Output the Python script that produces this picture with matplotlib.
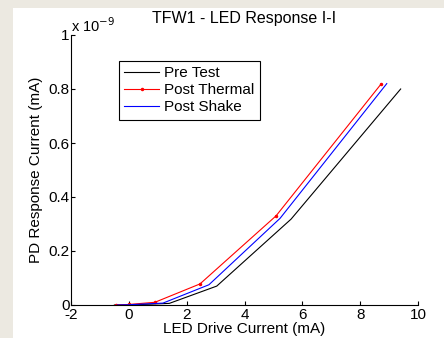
import numpy as np
import matplotlib.pyplot as plt
from matplotlib.patches import Rectangle

# data (drive current in mA, response in A)
pre_x = [-0.5, 0.0, 1.4, 3.04, 5.61, 9.4]
pre_y = [0.0, 0.0, 0.006e-9, 0.07e-9, 0.318e-9, 0.80e-9]

thermal_x = [-0.45, 0.0, 0.9, 2.46, 5.09, 8.72]
thermal_y = [0.0, 0.002e-9, 0.01e-9, 0.078e-9, 0.33e-9, 0.818e-9]

shake_x = [-0.4, 0.0, 1.18, 2.77, 5.23, 8.92]
shake_y = [0.0, 0.001e-9, 0.007e-9, 0.075e-9, 0.321e-9, 0.82e-9]

xticks = [-2, 0, 2, 4, 6, 8, 10]
yticks = [0, 0.2, 0.4, 0.6, 0.8, 1]

plt.rcParams['font.family'] = ['Liberation Sans', 'DejaVu Sans']
plt.rcParams['font.size'] = 11

fig = plt.figure(figsize=(4.44, 3.38), dpi=100)
fig.patch.set_facecolor('white')
# beige window strips on the left and top
fig.patches.append(Rectangle((0, 0), 13 / 444, 1, transform=fig.transFigure,
                             facecolor='#ece9e1', edgecolor='none', zorder=-10))
fig.patches.append(Rectangle((0, 1 - 8 / 338), 1, 8 / 338, transform=fig.transFigure,
                             facecolor='#ece9e1', edgecolor='none', zorder=-10))

ax = fig.add_axes([71 / 444, 33 / 338, 347 / 444, 270 / 338])

ax.plot(pre_x, pre_y, color='black', lw=0.8, label='Pre Test')
ax.plot(thermal_x, thermal_y, color='red', lw=0.8, marker='.', ms=3, label='Post Thermal')
ax.plot(shake_x, shake_y, color='blue', lw=0.8, label='Post Shake')

ax.set_xlim(-2, 10)
ax.set_ylim(0, 1e-9)
ax.set_xticks(xticks)
ax.set_xticklabels([str(t) for t in xticks])
ax.set_yticks([t * 1e-9 for t in yticks])
ax.set_yticklabels([str(t) for t in yticks])
ax.tick_params(direction='in', length=3, width=0.8, pad=1)
ax.tick_params(axis='x', pad=2)
ax.spines['top'].set_visible(False)
ax.spines['right'].set_visible(False)

ax.text(0.0, 1.0, r'x 10$^{-9}$', transform=ax.transAxes, ha='left', va='bottom', fontsize=10.5)
ax.set_title('TFW1 - LED Response I-I', fontsize=11.5, pad=9)
ax.set_xlabel('LED Drive Current (mA)', labelpad=0)
ax.set_ylabel('PD Response Current (mA)', labelpad=4)

leg = ax.legend(loc='upper left', bbox_to_anchor=(48 / 347, 1 - 26 / 270), fancybox=False,
                edgecolor='black', framealpha=1, borderpad=0.35, labelspacing=0.2,
                handlelength=2.3, handletextpad=0.3, borderaxespad=0)
leg.get_frame().set_linewidth(0.8)

fig.savefig('out.png', dpi=100, facecolor=fig.get_facecolor())
